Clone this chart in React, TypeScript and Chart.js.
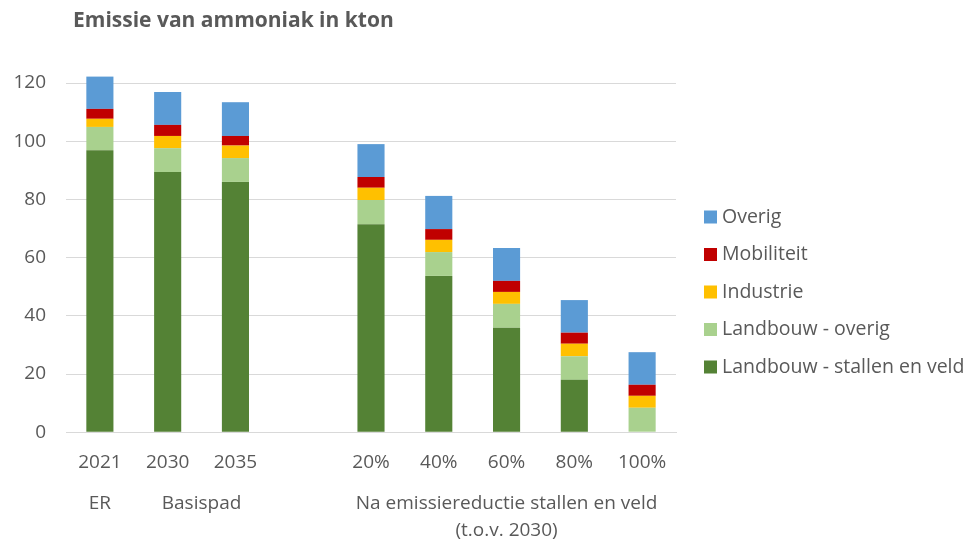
import React, { useEffect, useRef } from "react";
import { Chart, registerables } from "chart.js";

Chart.register(...registerables);

const categories = ["2021", "2030", "2035", "", "20%", "40%", "60%", "80%", "100%"];
const stallenVeld = [96.9, 89.4, 86.0, null, 71.5, 53.7, 35.9, 18.0, 0];
const landbouwOverig = [8.0, 8.2, 8.2, null, 8.3, 8.2, 8.2, 8.1, 8.4];
const industrie = [2.8, 4.2, 4.3, null, 4.2, 4.2, 4.1, 4.3, 4.1];
const mobiliteit = [3.4, 3.8, 3.3, null, 3.7, 3.7, 3.8, 3.8, 3.8];
const overig = [11.1, 11.3, 11.6, null, 11.3, 11.4, 11.3, 11.2, 11.2];
const yTicks = [0, 20, 40, 60, 80, 100, 120];

const groupNames: string[][] = [["ER"], ["Basispad"], ["Na emissiereductie stallen en veld", "(t.o.v. 2030)"]];
const groupStart = [0, 1, 4];
const groupEnd = [0, 2, 8];

const title = "Emissie van ammoniak in kton";
const FONT = "'Open Sans', Lato, sans-serif";
const TEXT = "#595959";

export default function App() {
  const ref = useRef<HTMLCanvasElement>(null);
  useEffect(() => {
    if (!ref.current) return;
    const extras = {
      id: "extras",
      afterDraw(chart: any) {
        const ctx = chart.ctx;
        const xs = chart.scales.x;
        const area = chart.chartArea;
        ctx.save();
        // title
        ctx.fillStyle = TEXT;
        ctx.font = `bold 21px ${FONT}`;
        ctx.textAlign = "left";
        ctx.textBaseline = "middle";
        ctx.fillText(title, 73, 21);
        // group labels
        ctx.font = `19px ${FONT}`;
        ctx.textAlign = "center";
        groupNames.forEach((lines, i) => {
          const cx = (xs.getPixelForValue(groupStart[i]) + xs.getPixelForValue(groupEnd[i])) / 2;
          lines.forEach((ln, j) => {
            ctx.fillText(ln, cx, area.bottom + 71 + j * 27);
          });
        });
        // legend (reversed)
        const ds = chart.data.datasets.slice().reverse();
        ctx.textAlign = "left";
        ctx.font = `19.5px ${FONT}`;
        ds.forEach((d: any, i: number) => {
          const cy = 217 + i * 37.5;
          ctx.fillStyle = d.backgroundColor;
          ctx.fillRect(704, cy - 6.5, 13, 13);
          ctx.fillStyle = TEXT;
          ctx.fillText(d.label, 722, cy);
        });
        ctx.restore();
      },
    };
    const chart = new Chart(ref.current, {
      type: "bar",
      data: {
        labels: categories,
        datasets: [
          { label: "Landbouw - stallen en veld", data: stallenVeld, backgroundColor: "#548235" },
          { label: "Landbouw - overig", data: landbouwOverig, backgroundColor: "#A9D18E" },
          { label: "Industrie", data: industrie, backgroundColor: "#FFC000" },
          { label: "Mobiliteit", data: mobiliteit, backgroundColor: "#C00000" },
          { label: "Overig", data: overig, backgroundColor: "#5B9BD5" },
        ] as any,
      },
      options: {
        animation: false,
        responsive: true,
        maintainAspectRatio: false,
        layout: { padding: { top: 83, right: 292, bottom: 58, left: 0 } },
        datasets: { bar: { barPercentage: 0.4, categoryPercentage: 1, borderWidth: 0, clip: false } as any },
        plugins: { legend: { display: false }, title: { display: false }, tooltip: { enabled: false } },
        scales: {
          x: {
            stacked: true,
            grid: { display: false },
            border: { display: true, color: "#d9d9d9" },
            ticks: { color: TEXT, font: { family: FONT, size: 19 }, padding: 11, maxRotation: 0, autoSkip: false },
          },
          y: {
            stacked: true,
            min: 0,
            max: 120,
            afterFit: (s: any) => { s.width = 66; },
            afterBuildTicks: (s: any) => { s.ticks = yTicks.map((v) => ({ value: v })); },
            grid: { color: "#d9d9d9", drawTicks: false },
            border: { display: false },
            ticks: { color: TEXT, font: { family: FONT, size: 19 }, padding: 20 },
          },
        },
      },
      plugins: [extras],
    });
    return () => chart.destroy();
  }, []);
  return (
    <div style={{ position: "fixed", left: 0, top: 0, width: 968, height: 543, background: "#fff" }}>
      <canvas ref={ref} />
    </div>
  );
}
